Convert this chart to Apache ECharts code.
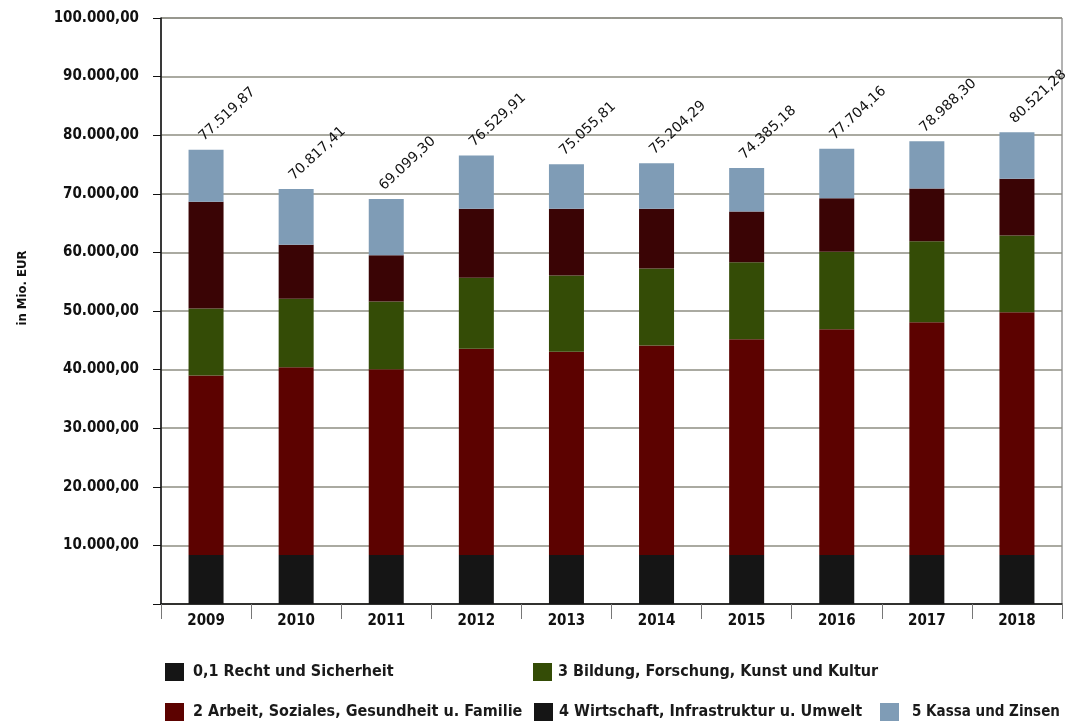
<!DOCTYPE html>
<html>
<head>
<meta charset="utf-8">
<script src="https://cdn.jsdelivr.net/npm/echarts@6/dist/echarts.min.js"></script>
<style>
  html, body { margin: 0; padding: 0; background: #ffffff; }
  #chart { width: 1079px; height: 723px; }
</style>
</head>
<body>
<div id="chart"></div>
<script>
// Budget by area, in Mio. EUR
const years = ['2009', '2010', '2011', '2012', '2013', '2014', '2015', '2016', '2017', '2018'];

const seriesNames = [
  '0,1 Recht und Sicherheit',
  '2 Arbeit, Soziales, Gesundheit u. Familie',
  '3 Bildung, Forschung, Kunst und Kultur',
  '4 Wirtschaft, Infrastruktur u. Umwelt',
  '5 Kassa und Zinsen'
];

const rechtSicherheit = [8370, 8370, 8370, 8370, 8370, 8370, 8370, 8370, 8370, 8370];
const arbeitSoziales  = [30610, 32040, 31700, 35170, 34660, 35730, 36820, 38530, 39720, 41430];
const bildungKultur   = [11440, 11660, 11550, 12120, 13030, 13150, 13150, 13200, 13830, 13090];
const wirtschaftInfra = [18220, 9230, 7910, 11780, 11380, 10190, 8650, 9160, 8990, 9670];
const kassaZinsen     = [8879.87, 9517.41, 9569.30, 9089.91, 7615.81, 7764.29, 7395.18, 8444.16, 8078.30, 7961.28];

// Stack totals shown above each bar
const totals = [77519.87, 70817.41, 69099.30, 76529.91, 75055.81, 75204.29, 74385.18, 77704.16, 78988.30, 80521.28];

const colors = ['#151515', '#5c0200', '#344c06', '#3a0405', '#7f9cb6'];
const legendSwatch = ['#151515', '#5c0200', '#344c06', '#151515', '#7f9cb6'];

const FONT = '"DejaVu Sans Condensed", "DejaVu Sans", sans-serif';
const LABEL_FONT = '"DejaVu Sans", sans-serif';

// German number format: 100.000,00
function fmtDe(v) {
  const parts = v.toFixed(2).split('.');
  const intPart = parts[0].replace(/\B(?=(\d{3})+(?!\d))/g, '.');
  return intPart + ',' + parts[1];
}

const values = [rechtSicherheit, arbeitSoziales, bildungKultur, wirtschaftInfra, kassaZinsen];

const series = values.map((arr, i) => {
  const s = {
    name: seriesNames[i],
    type: 'bar',
    stack: 'total',
    barWidth: 35,
    data: arr,
    itemStyle: { color: colors[i] },
    emphasis: { disabled: true }
  };
  if (i === values.length - 1) {
    s.label = {
      show: true,
      position: 'top',
      distance: 6,
      rotate: 43,
      align: 'left',
      verticalAlign: 'bottom',
      offset: [-9, 0],
      color: '#111',
      fontFamily: LABEL_FONT,
      fontSize: 14,
      formatter: p => fmtDe(totals[p.dataIndex])
    };
    s.labelLayout = { rotate: 43 };
  }
  return s;
});

const legendItem = (idx, left, top, gap, size) => ({
  data: [{ name: seriesNames[idx], itemStyle: { color: legendSwatch[idx] } }],
  left: left,
  top: top,
  padding: 0,
  orient: 'horizontal',
  itemWidth: 19,
  itemHeight: 18,
  icon: 'rect',
  selectedMode: false,
  textStyle: { fontFamily: FONT, fontSize: size, fontWeight: 'bold', color: '#1a1a1a', padding: [0, 0, 0, gap] }
});

const chart = echarts.init(document.getElementById('chart'), null, { renderer: 'canvas' });
chart.setOption({
  animation: false,
  backgroundColor: '#ffffff',
  grid: {
    left: 161, right: 17, top: 18, bottom: 119,
    show: true, borderColor: '#666', borderWidth: 1, backgroundColor: 'transparent'
  },
  legend: [
    legendItem(0, 165, 663, 4, 16),
    legendItem(2, 533, 663, 1, 16),
    legendItem(1, 165, 703, 4, 16),
    legendItem(3, 534, 703, 1, 16),
    legendItem(4, 880, 703, 8, 15)
  ],
  xAxis: {
    type: 'category',
    data: years,
    axisLine: { lineStyle: { color: '#111', width: 1.5 } },
    axisTick: { show: true, length: 15, lineStyle: { color: '#777' } },
    axisLabel: { color: '#111', fontFamily: FONT, fontSize: 15, fontWeight: 'bold', margin: 10 }
  },
  yAxis: {
    type: 'value',
    min: 0,
    max: 100000,
    interval: 10000,
    name: 'in Mio. EUR',
    nameLocation: 'middle',
    nameGap: 132,
    nameRotate: 90,
    nameTextStyle: { color: '#111', fontFamily: FONT, fontSize: 13, fontWeight: 'bold', padding: [0, 0, 0, 46] },
    axisLine: { show: true, lineStyle: { color: '#111', width: 1.5 } },
    axisTick: { show: true, length: 8, lineStyle: { color: '#111' } },
    splitLine: { lineStyle: { color: '#8e8e82', width: 1.5 } },
    axisLabel: {
      color: '#111', fontFamily: FONT, fontSize: 15, fontWeight: 'bold', margin: 22,
      formatter: v => (v === 0 ? '' : fmtDe(v))
    }
  },
  series: series
});
</script>
</body>
</html>
